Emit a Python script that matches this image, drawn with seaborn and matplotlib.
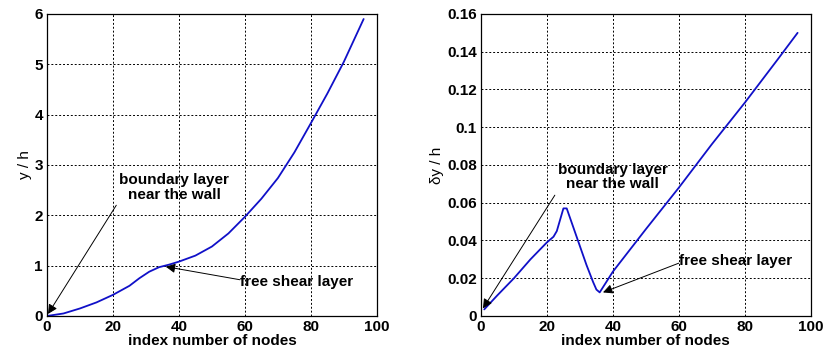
import matplotlib
matplotlib.use('Agg')
import matplotlib.pyplot as plt
import seaborn as sns
import pandas as pd

# values
idx_y = [0, 5, 10, 15, 20, 25, 28, 31, 34, 37, 40, 45, 50, 55, 60, 65, 70, 75, 80, 85, 90, 96]
y_h = [0.0, 0.05, 0.15, 0.27, 0.42, 0.60, 0.75, 0.88, 0.97, 1.02, 1.08, 1.20, 1.38, 1.64,
       1.97, 2.33, 2.74, 3.25, 3.83, 4.42, 5.05, 5.9]

idx_dy = [1, 5, 10, 15, 20, 22, 23, 24, 25, 26, 28, 30, 32, 34, 35, 36, 38, 40,
          50, 60, 70, 80, 90, 96]
dy_h = [0.0035, 0.011, 0.020, 0.030, 0.039, 0.042, 0.045, 0.051, 0.057, 0.057,
        0.047, 0.037, 0.027, 0.018, 0.014, 0.0125, 0.018, 0.0235,
        0.046, 0.068, 0.091, 0.113, 0.136, 0.150]

x_ticks = [0, 20, 40, 60, 80, 100]
y_ticks_left = [0, 1, 2, 3, 4, 5, 6]
y_ticks_right = [0, 0.02, 0.04, 0.06, 0.08, 0.1, 0.12, 0.14, 0.16]
y_ticklabels_right = ['0', '0.02', '0.04', '0.06', '0.08', '0.1', '0.12', '0.14', '0.16']

df_left = pd.DataFrame({'idx': idx_y, 'val': y_h})
df_right = pd.DataFrame({'idx': idx_dy, 'val': dy_h})

sns.set_theme(style='white')
plt.rcParams['font.family'] = ['Liberation Sans', 'DejaVu Sans']
plt.rcParams['text.color'] = 'black'
plt.rcParams['axes.labelcolor'] = 'black'
plt.rcParams['xtick.color'] = 'black'
plt.rcParams['ytick.color'] = 'black'

fig = plt.figure(figsize=(8.35, 3.63), dpi=100)
ax1 = fig.add_axes([0.0563, 0.1295, 0.395, 0.832])
ax2 = fig.add_axes([0.576, 0.1295, 0.395, 0.832])

arrow = dict(arrowstyle='-|>', color='black', lw=0.7, mutation_scale=14,
             shrinkA=0, shrinkB=0)
label_font = dict(fontsize=11, fontweight='bold')


def style_axis(ax, yticks, ylabels, ylim):
    ax.set_xlim(0, 100)
    ax.set_ylim(*ylim)
    ax.set_xticks(x_ticks)
    ax.set_xticklabels([str(t) for t in x_ticks], **label_font)
    ax.set_yticks(yticks)
    ax.set_yticklabels(ylabels, **label_font)
    ax.grid(True, color='black', linestyle=(0, (2, 2)), linewidth=0.7)
    ax.tick_params(direction='in', length=3, pad=3)
    for s in ax.spines.values():
        s.set_color('black')
        s.set_linewidth(0.9)
    ax.set_xlabel('index number of nodes', labelpad=0, **label_font)


# left panel: y / h
sns.lineplot(data=df_left, x='idx', y='val', ax=ax1, color='#1010c8', lw=1.3)
style_axis(ax1, y_ticks_left, [str(t) for t in y_ticks_left], (0, 6))
ax1.set_ylabel('y / h', fontsize=11, labelpad=2)
ax1.annotate('', xy=(0.3, 0.04), xytext=(21, 2.2), arrowprops=arrow)
ax1.text(38.5, 2.55, 'boundary layer\nnear the wall', ha='center', va='center',
         linespacing=1.05, **label_font)
ax1.annotate('', xy=(36, 0.98), xytext=(58.5, 0.72), arrowprops=arrow)
ax1.text(58.5, 0.68, 'free shear layer', va='center', ha='left', **label_font)

# right panel: dy / h
sns.lineplot(data=df_right, x='idx', y='val', ax=ax2, color='#1010c8', lw=1.3)
style_axis(ax2, y_ticks_right, y_ticklabels_right, (0, 0.16))
ax2.set_ylabel('δy / h', fontsize=11, labelpad=2)
ax2.annotate('', xy=(0.6, 0.004), xytext=(22.4, 0.064), arrowprops=arrow)
ax2.text(40, 0.0737, 'boundary layer\nnear the wall', ha='center', va='center',
         linespacing=1.05, **label_font)
ax2.annotate('', xy=(37, 0.0125), xytext=(60, 0.028), arrowprops=arrow)
ax2.text(60, 0.029, 'free shear layer', va='center', ha='left', **label_font)

fig.savefig('out.png', dpi=100)
plt.close(fig)
